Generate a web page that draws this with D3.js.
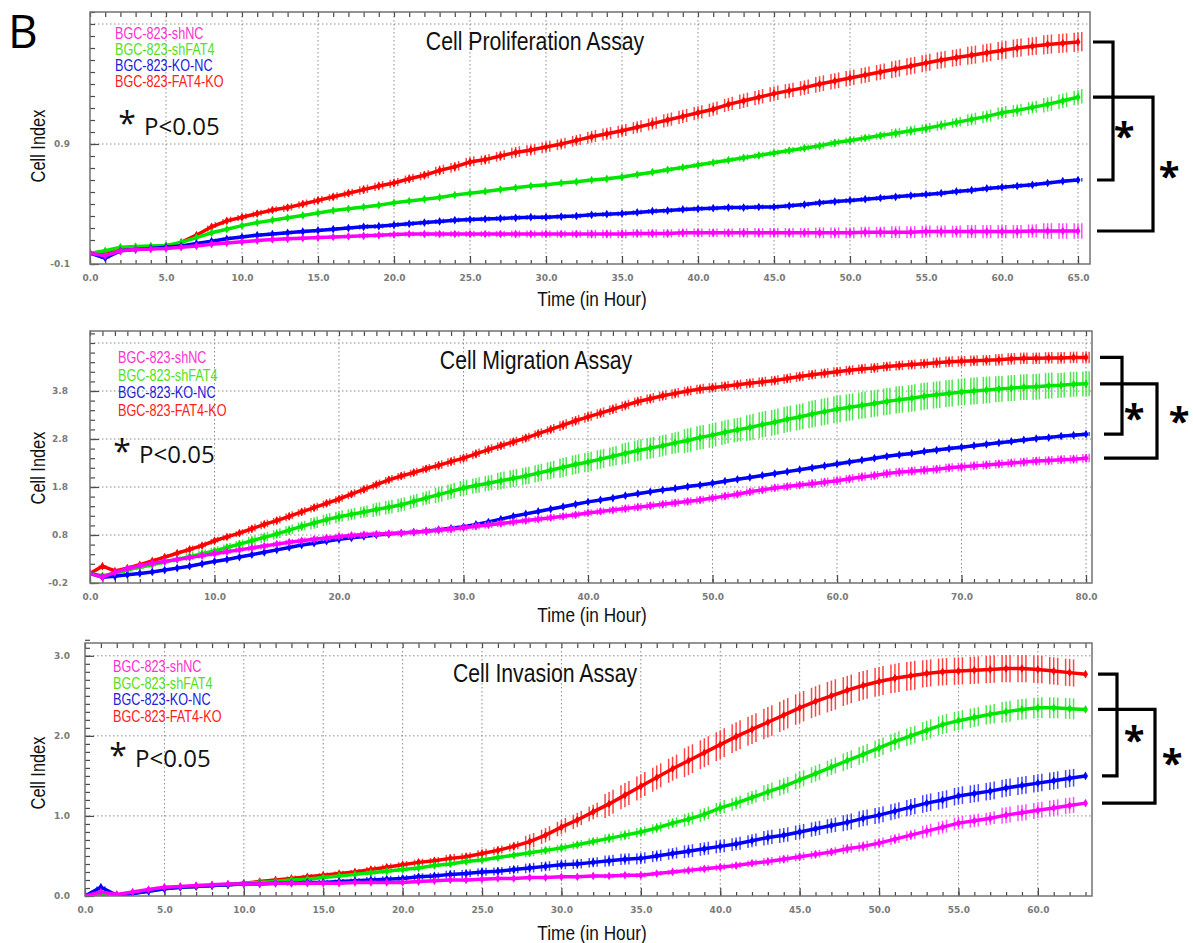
<!DOCTYPE html>
<html>
<head>
<meta charset="utf-8">
<script src="https://cdn.jsdelivr.net/npm/d3@7"></script>
<style>
body { margin: 0; background: #fff; }
text { font-family: "Liberation Sans", Arial, sans-serif; }
</style>
</head>
<body>
<svg id="chart" width="1193" height="943"></svg>
<script>
// legend order
var seriesNames = ["BGC-823-shNC", "BGC-823-shFAT4", "BGC-823-KO-NC", "BGC-823-FAT4-KO"];
var lineColors = ["#ff00ff", "#00e600", "#0000ff", "#ff0000"];
var barColors = ["#ff4dff", "#4de84d", "#4545ff", "#ff4545"];
var legendColors = ["#ff30d0", "#55e020", "#2020d8", "#ff2020"];

// ---- Cell Proliferation Assay, one reading per hour (0..65 h)
var prolifHours = d3.range(0, 66);
var prolifShNC = [-0.01, -0.03, 0.01, 0.02, 0.025, 0.03, 0.04, 0.05, 0.065, 0.075,
    0.085, 0.095, 0.105, 0.11, 0.115, 0.12, 0.125, 0.13, 0.135, 0.14,
    0.145, 0.15, 0.15, 0.15, 0.15, 0.15, 0.15, 0.15, 0.15, 0.15,
    0.15, 0.15, 0.15, 0.15, 0.15, 0.15, 0.155, 0.155, 0.155, 0.16,
    0.16, 0.16, 0.16, 0.16, 0.16, 0.16, 0.16, 0.16, 0.16, 0.16,
    0.16, 0.165, 0.165, 0.165, 0.165, 0.17, 0.17, 0.17, 0.17, 0.17,
    0.17, 0.17, 0.175, 0.175, 0.175, 0.175];
var prolifShFAT4 = [-0.01, 0.01, 0.04, 0.045, 0.05, 0.055, 0.08, 0.12, 0.16, 0.19,
    0.22, 0.245, 0.265, 0.285, 0.305, 0.325, 0.345, 0.36, 0.375, 0.39,
    0.41, 0.425, 0.44, 0.455, 0.475, 0.49, 0.505, 0.52, 0.535, 0.55,
    0.56, 0.575, 0.585, 0.60, 0.61, 0.625, 0.645, 0.665, 0.685, 0.705,
    0.725, 0.745, 0.765, 0.785, 0.805, 0.825, 0.845, 0.865, 0.885, 0.91,
    0.93, 0.95, 0.97, 0.99, 1.01, 1.03, 1.055, 1.08, 1.105, 1.13,
    1.16, 1.18, 1.205, 1.23, 1.26, 1.29];
var prolifKONC = [-0.01, -0.05, 0.01, 0.02, 0.03, 0.04, 0.05, 0.07, 0.09, 0.11,
    0.125, 0.14, 0.15, 0.16, 0.17, 0.18, 0.19, 0.20, 0.21, 0.215,
    0.225, 0.235, 0.245, 0.255, 0.265, 0.27, 0.275, 0.28, 0.285, 0.29,
    0.29, 0.295, 0.30, 0.31, 0.315, 0.32, 0.33, 0.34, 0.345, 0.355,
    0.36, 0.365, 0.37, 0.37, 0.375, 0.375, 0.385, 0.395, 0.41, 0.42,
    0.43, 0.44, 0.45, 0.46, 0.47, 0.48, 0.49, 0.505, 0.515, 0.53,
    0.54, 0.55, 0.56, 0.575, 0.59, 0.60];
var prolifFAT4KO = [-0.01, 0.00, 0.03, 0.035, 0.04, 0.045, 0.08, 0.14, 0.21, 0.26,
    0.29, 0.32, 0.35, 0.37, 0.40, 0.43, 0.46, 0.49, 0.52, 0.55,
    0.575, 0.61, 0.64, 0.68, 0.71, 0.75, 0.77, 0.80, 0.83, 0.85,
    0.875, 0.90, 0.93, 0.96, 0.985, 1.01, 1.04, 1.07, 1.10, 1.13,
    1.16, 1.19, 1.23, 1.26, 1.29, 1.32, 1.345, 1.37, 1.40, 1.425,
    1.45, 1.475, 1.50, 1.525, 1.55, 1.575, 1.60, 1.62, 1.64, 1.66,
    1.68, 1.70, 1.715, 1.73, 1.74, 1.75];
// error bar half-heights, one per 5 h (0, 5, ... 65)
var prolifErrShNC = [0.005, 0.01, 0.01, 0.015, 0.02, 0.025, 0.03, 0.035, 0.035, 0.04, 0.045, 0.05, 0.055, 0.065];
var prolifErrShFAT4 = [0.005, 0.01, 0.01, 0.01, 0.01, 0.01, 0.01, 0.015, 0.02, 0.025, 0.03, 0.04, 0.05, 0.06];
var prolifErrKONC = [0.005, 0.01, 0.015, 0.015, 0.02, 0.02, 0.02, 0.02, 0.02, 0.02, 0.02, 0.02, 0.02, 0.015];
var prolifErrFAT4KO = [0.01, 0.01, 0.025, 0.03, 0.035, 0.04, 0.045, 0.05, 0.055, 0.06, 0.065, 0.07, 0.075, 0.08];

// ---- Cell Migration Assay, one reading per hour (0..80 h)
var migrHours = d3.range(0, 81);
var migrShNC = [0.00, -0.08, 0.02, 0.10, 0.16, 0.21, 0.25, 0.29, 0.33, 0.37,
    0.41, 0.45, 0.49, 0.53, 0.57, 0.61, 0.65, 0.68, 0.71, 0.74,
    0.77, 0.79, 0.81, 0.82, 0.83, 0.84, 0.86, 0.88, 0.90, 0.92,
    0.95, 0.98, 1.01, 1.04, 1.07, 1.10, 1.13, 1.16, 1.19, 1.22,
    1.26, 1.29, 1.32, 1.35, 1.38, 1.41, 1.44, 1.47, 1.50, 1.53,
    1.57, 1.61, 1.65, 1.70, 1.74, 1.78, 1.81, 1.84, 1.87, 1.90,
    1.93, 1.97, 2.01, 2.04, 2.08, 2.11, 2.13, 2.15, 2.17, 2.20,
    2.22, 2.24, 2.26, 2.28, 2.30, 2.32, 2.34, 2.35, 2.37, 2.38,
    2.40];
var migrShFAT4 = [0.00, -0.05, 0.00, 0.07, 0.13, 0.18, 0.24, 0.29, 0.35, 0.41,
    0.47, 0.54, 0.61, 0.68, 0.75, 0.82, 0.90, 0.98, 1.05, 1.12,
    1.18, 1.23, 1.28, 1.33, 1.38, 1.43, 1.50, 1.57, 1.64, 1.71,
    1.78, 1.83, 1.88, 1.93, 1.98, 2.03, 2.09, 2.15, 2.21, 2.27,
    2.32, 2.38, 2.44, 2.50, 2.56, 2.61, 2.66, 2.72, 2.77, 2.83,
    2.88, 2.94, 2.99, 3.04, 3.10, 3.15, 3.21, 3.26, 3.32, 3.37,
    3.42, 3.46, 3.50, 3.54, 3.58, 3.62, 3.65, 3.69, 3.72, 3.75,
    3.78, 3.80, 3.82, 3.84, 3.86, 3.88, 3.89, 3.91, 3.92, 3.94,
    3.95];
var migrKONC = [0.00, -0.08, -0.06, -0.03, 0.00, 0.03, 0.07, 0.11, 0.15, 0.20,
    0.25, 0.29, 0.34, 0.39, 0.44, 0.49, 0.54, 0.59, 0.63, 0.67,
    0.71, 0.74, 0.77, 0.80, 0.82, 0.84, 0.86, 0.88, 0.91, 0.94,
    0.97, 1.02, 1.07, 1.13, 1.19, 1.24, 1.29, 1.34, 1.39, 1.44,
    1.49, 1.53, 1.57, 1.62, 1.66, 1.70, 1.74, 1.77, 1.81, 1.84,
    1.88, 1.92, 1.96, 2.00, 2.04, 2.08, 2.12, 2.16, 2.20, 2.24,
    2.28, 2.32, 2.36, 2.40, 2.44, 2.47, 2.50, 2.54, 2.57, 2.60,
    2.63, 2.66, 2.69, 2.72, 2.75, 2.78, 2.81, 2.83, 2.86, 2.88,
    2.90];
var migrFAT4KO = [0.00, 0.15, 0.05, 0.11, 0.18, 0.26, 0.34, 0.42, 0.50, 0.58,
    0.68, 0.76, 0.84, 0.93, 1.02, 1.10, 1.19, 1.28, 1.37, 1.46,
    1.55, 1.65, 1.75, 1.85, 1.95, 2.03, 2.10, 2.18, 2.25, 2.33,
    2.40, 2.49, 2.58, 2.66, 2.74, 2.82, 2.91, 3.00, 3.09, 3.18,
    3.26, 3.34, 3.42, 3.50, 3.58, 3.64, 3.70, 3.75, 3.80, 3.84,
    3.87, 3.90, 3.93, 3.96, 3.99, 4.02, 4.06, 4.10, 4.14, 4.17,
    4.20, 4.23, 4.26, 4.28, 4.31, 4.33, 4.35, 4.37, 4.39, 4.41,
    4.42, 4.43, 4.44, 4.45, 4.47, 4.48, 4.48, 4.49, 4.49, 4.50,
    4.50];
var migrErrShNC = [0.01, 0.03, 0.05, 0.06, 0.06, 0.06, 0.07, 0.07, 0.07, 0.08, 0.08, 0.08, 0.09, 0.09, 0.09, 0.09, 0.09];
var migrErrShFAT4 = [0.02, 0.05, 0.08, 0.10, 0.12, 0.14, 0.16, 0.18, 0.20, 0.22, 0.25, 0.27, 0.28, 0.28, 0.28, 0.27, 0.26];
var migrErrKONC = [0.01, 0.02, 0.02, 0.02, 0.02, 0.03, 0.03, 0.03, 0.03, 0.03, 0.03, 0.03, 0.04, 0.04, 0.04, 0.04, 0.04];
var migrErrFAT4KO = [0.02, 0.04, 0.06, 0.08, 0.08, 0.08, 0.09, 0.09, 0.10, 0.10, 0.10, 0.10, 0.10, 0.10, 0.11, 0.12, 0.12];

// ---- Cell Invasion Assay, one reading per hour (0..63 h)
var invHours = d3.range(0, 64);
var invShNC = [0.00, 0.05, 0.02, 0.05, 0.08, 0.11, 0.12, 0.13, 0.14, 0.15,
    0.15, 0.15, 0.16, 0.16, 0.16, 0.16, 0.16, 0.17, 0.17, 0.17,
    0.17, 0.18, 0.19, 0.20, 0.20, 0.21, 0.22, 0.22, 0.23, 0.23,
    0.24, 0.24, 0.25, 0.25, 0.26, 0.26, 0.28, 0.30, 0.32, 0.34,
    0.36, 0.38, 0.41, 0.43, 0.46, 0.49, 0.52, 0.55, 0.59, 0.62,
    0.66, 0.71, 0.76, 0.81, 0.86, 0.91, 0.94, 0.97, 1.01, 1.04,
    1.07, 1.10, 1.13, 1.16];
var invShFAT4 = [0.00, 0.02, 0.01, 0.03, 0.06, 0.09, 0.11, 0.12, 0.13, 0.14,
    0.16, 0.17, 0.18, 0.20, 0.21, 0.23, 0.25, 0.27, 0.29, 0.31,
    0.33, 0.35, 0.38, 0.40, 0.43, 0.45, 0.48, 0.51, 0.54, 0.57,
    0.60, 0.64, 0.68, 0.72, 0.76, 0.80, 0.85, 0.91, 0.96, 1.02,
    1.10, 1.16, 1.23, 1.30, 1.37, 1.45, 1.53, 1.61, 1.69, 1.77,
    1.85, 1.93, 2.00, 2.07, 2.14, 2.19, 2.23, 2.27, 2.30, 2.33,
    2.35, 2.35, 2.34, 2.33];
var invKONC = [0.00, 0.11, 0.01, 0.03, 0.06, 0.09, 0.11, 0.12, 0.13, 0.14,
    0.15, 0.15, 0.16, 0.16, 0.17, 0.17, 0.18, 0.19, 0.20, 0.21,
    0.22, 0.24, 0.25, 0.27, 0.28, 0.30, 0.31, 0.33, 0.35, 0.37,
    0.39, 0.40, 0.42, 0.44, 0.46, 0.47, 0.50, 0.53, 0.56, 0.59,
    0.62, 0.65, 0.69, 0.73, 0.76, 0.80, 0.84, 0.88, 0.92, 0.97,
    1.01, 1.06, 1.11, 1.16, 1.20, 1.25, 1.28, 1.31, 1.35, 1.38,
    1.41, 1.44, 1.47, 1.50];
var invFAT4KO = [0.00, 0.02, 0.01, 0.04, 0.07, 0.10, 0.11, 0.12, 0.13, 0.14,
    0.16, 0.18, 0.20, 0.22, 0.24, 0.26, 0.28, 0.30, 0.33, 0.36,
    0.39, 0.42, 0.44, 0.47, 0.49, 0.53, 0.57, 0.62, 0.68, 0.76,
    0.86, 0.95, 1.05, 1.15, 1.26, 1.37, 1.48, 1.59, 1.69, 1.79,
    1.89, 1.99, 2.08, 2.17, 2.26, 2.35, 2.43, 2.50, 2.57, 2.63,
    2.68, 2.72, 2.75, 2.78, 2.80, 2.81, 2.82, 2.83, 2.84, 2.84,
    2.83, 2.81, 2.79, 2.77];
var invErrShNC = [0.01, 0.01, 0.01, 0.02, 0.02, 0.02, 0.02, 0.03, 0.04, 0.05, 0.06, 0.08, 0.10];
var invErrShFAT4 = [0.01, 0.01, 0.02, 0.02, 0.03, 0.03, 0.05, 0.06, 0.08, 0.10, 0.11, 0.12, 0.13];
var invErrKONC = [0.01, 0.02, 0.02, 0.03, 0.04, 0.05, 0.06, 0.07, 0.08, 0.09, 0.10, 0.11, 0.11];
var invErrFAT4KO = [0.01, 0.01, 0.02, 0.03, 0.04, 0.05, 0.09, 0.15, 0.18, 0.19, 0.18, 0.17, 0.17];

// axis tick labels
var prolifXTicks = [0, 5, 10, 15, 20, 25, 30, 35, 40, 45, 50, 55, 60, 65];
var prolifYTicks = [-0.1, 0.9];
var prolifYGrid = [0.9, 1.9];
var migrXTicks = [0, 10, 20, 30, 40, 50, 60, 70, 80];
var migrYTicks = [-0.2, 0.8, 1.8, 2.8, 3.8];
var migrYGrid = [0.8, 1.8, 2.8, 3.8, 4.8];
var invXTicks = [0, 5, 10, 15, 20, 25, 30, 35, 40, 45, 50, 55, 60];
var invYTicks = [0.0, 1.0, 2.0, 3.0];
var invYGrid = [1.0, 2.0, 3.0];

var svg = d3.select("#chart");

function styleAxis(sel) {
    sel.select(".domain").remove();
    sel.selectAll(".tick line").attr("stroke", "#4a4a4a").attr("stroke-width", 1.2);
    sel.selectAll(".tick text")
        .attr("fill", "#7a7a7a")
        .style("font-family", "DejaVu Sans, sans-serif")
        .style("font-weight", "bold")
        .style("font-size", "9px");
}

function drawPanel(p) {
    var x = d3.scaleLinear().domain(p.xDomain).range([p.left, p.right]);
    var y = d3.scaleLinear().domain(p.yDomain).range([p.bottom, p.top]);
    var g = svg.append("g");
    var fmt = function(d) { return d.toFixed(1); };

    g.append("clipPath").attr("id", p.id + "clip")
        .append("rect")
        .attr("x", p.left).attr("y", p.top)
        .attr("width", p.right - p.left).attr("height", p.bottom - p.top);

    // dotted grid
    g.selectAll(".vgrid").data(p.xTicks.filter(function(d) { return d > 0; })).enter().append("line")
        .attr("x1", function(d) { return x(d); })
        .attr("x2", function(d) { return x(d); })
        .attr("y1", p.top).attr("y2", p.bottom)
        .attr("stroke", "#8a8a8a").attr("stroke-width", 1)
        .attr("stroke-dasharray", "1.5,2.5");
    g.selectAll(".hgrid").data(p.yGrid).enter().append("line")
        .attr("x1", p.left).attr("x2", p.right)
        .attr("y1", function(d) { return y(d); })
        .attr("y2", function(d) { return y(d); })
        .attr("stroke", "#8a8a8a").attr("stroke-width", 1)
        .attr("stroke-dasharray", "1.5,2.5");

    // minor ticks every hour / every y step
    var xMinor = d3.range(0, Math.floor(p.xDomain[1]) + 1);
    var yMinor = d3.range(0, Math.round((p.yDomain[1] - p.yDomain[0]) / p.yStep) + 1)
        .map(function(i) { return p.yDomain[0] + i * p.yStep; });

    g.append("g").attr("transform", "translate(0," + p.bottom + ")")
        .call(d3.axisBottom(x).tickValues(xMinor).tickSize(-4).tickFormat(""))
        .call(styleAxis);
    g.append("g").attr("transform", "translate(0," + p.top + ")")
        .call(d3.axisTop(x).tickValues(xMinor).tickSize(-5).tickFormat(""))
        .call(styleAxis);
    g.append("g").attr("transform", "translate(" + p.left + ",0)")
        .call(d3.axisLeft(y).tickValues(yMinor).tickSize(-5).tickFormat(""))
        .call(styleAxis);

    // labelled ticks
    g.append("g").attr("transform", "translate(0," + p.bottom + ")")
        .call(d3.axisBottom(x).tickValues(p.xTicks).tickSize(-8).tickPadding(11).tickFormat(fmt))
        .call(styleAxis);
    g.append("g").attr("transform", "translate(" + p.left + ",0)")
        .call(d3.axisLeft(y).tickValues(p.yTicks).tickSize(-9).tickPadding(p.yPad).tickFormat(fmt))
        .call(styleAxis);

    // series
    var plot = g.append("g").attr("clip-path", "url(#" + p.id + "clip)");
    var hourPx = x(1) - x(0);
    var offsets = [-1, 0, 1].map(function(k) { return k * hourPx / 4; });
    var order = [3, 1, 2, 0];

    order.forEach(function(si) {
        var vals = p.series[si];
        var errs = p.errors[si];
        var pts = p.hours.map(function(t, j) {
            return { t: t, v: vals[j], e: errs[Math.round(t / 5)] };
        });

        var bars = [];
        pts.forEach(function(d, j) {
            var prev = pts[Math.max(0, j - 1)];
            var next = pts[Math.min(pts.length - 1, j + 1)];
            var slope = (y(next.v) - y(prev.v)) / (x(next.t) - x(prev.t) || 1);
            var eh = y(0) - y(d.e);
            offsets.forEach(function(dx) {
                var cy = y(d.v) + slope * dx;
                bars.push({ x: x(d.t) + dx, y1: cy - eh, y2: cy + eh });
            });
        });

        plot.append("g").selectAll("line").data(bars).enter().append("line")
            .attr("x1", function(b) { return b.x; })
            .attr("x2", function(b) { return b.x; })
            .attr("y1", function(b) { return b.y1; })
            .attr("y2", function(b) { return b.y2; })
            .attr("stroke", barColors[si])
            .attr("stroke-width", 1.5);

        plot.append("path").datum(pts)
            .attr("fill", "none")
            .attr("stroke", lineColors[si])
            .attr("stroke-width", 3.5)
            .attr("d", d3.line()
                .x(function(d) { return x(d.t); })
                .y(function(d) { return y(d.v); }));

        plot.append("g").selectAll("path").data(pts).enter().append("path")
            .attr("transform", function(d) { return "translate(" + x(d.t) + "," + y(d.v) + ")"; })
            .attr("d", d3.symbol(d3.symbolDiamond).size(22))
            .attr("fill", lineColors[si]);
    });

    // frame
    g.append("rect")
        .attr("x", p.left).attr("y", p.top)
        .attr("width", p.right - p.left).attr("height", p.bottom - p.top)
        .attr("fill", "none").attr("stroke", "#727272").attr("stroke-width", 1.5);

    // title and axis titles
    g.append("text")
        .attr("transform", "translate(" + p.titleX + "," + p.titleY + ") scale(0.85,1)")
        .attr("text-anchor", "middle")
        .style("font-size", "25px")
        .attr("fill", "#111")
        .text(p.title);
    g.append("text")
        .attr("transform", "translate(592," + p.xTitleY + ") scale(0.82,1)")
        .attr("text-anchor", "middle")
        .style("font-size", "21px")
        .attr("fill", "#111")
        .text("Time (in Hour)");
    g.append("text")
        .attr("transform", "translate(45," + p.yTitleY + ") rotate(-90) scale(0.78,1)")
        .attr("text-anchor", "middle")
        .style("font-size", "21px")
        .attr("fill", "#111")
        .text("Cell Index");

    // legend
    var leg = g.append("g")
        .attr("transform", "translate(" + p.legX + "," + p.legY + ") scale(0.79,1)");
    leg.selectAll("text").data(seriesNames).enter().append("text")
        .attr("x", 0)
        .attr("y", function(d, i) { return i * p.legStep; })
        .style("font-size", "16px")
        .attr("fill", function(d, i) { return legendColors[i]; })
        .text(function(d) { return d; });

    // significance note
    g.append("text")
        .attr("x", p.noteX - 17).attr("y", p.noteY)
        .attr("text-anchor", "middle")
        .style("font-family", "Open Sans, sans-serif")
        .style("font-size", "32px")
        .attr("fill", "#111")
        .text("*");
    g.append("text")
        .attr("x", p.noteX).attr("y", p.noteY)
        .style("font-family", "Open Sans, sans-serif")
        .style("font-size", "24px")
        .attr("fill", "#111")
        .text("P<0.05");

    // brackets: FAT4-KO vs KO-NC, shFAT4 vs shNC (ends taken from the last readings)
    var last = p.hours.length - 1;
    var pairs = [[3, 2, p.br1], [1, 0, p.br2]];
    pairs.forEach(function(pr, k) {
        var yTop = y(p.series[pr[0]][last]);
        var yBot = y(p.series[pr[1]][last]);
        var x0 = p.right + p.brStart;
        var xv = p.right + pr[2];
        g.append("path")
            .attr("d", "M" + x0 + "," + yTop + "H" + xv + "V" + yBot + "H" + (x0 + 4))
            .attr("fill", "none")
            .attr("stroke", "#000")
            .attr("stroke-width", 3.2);
        g.append("text")
            .attr("x", p.stars[k][0]).attr("y", p.stars[k][1])
            .attr("text-anchor", "middle")
            .style("font-family", "Open Sans, sans-serif")
            .style("font-weight", "bold")
            .style("font-size", "38px")
            .attr("fill", "#000")
            .text("*");
    });
}

drawPanel({
    id: "prolif", left: 90, right: 1090, top: 12, bottom: 264,
    xDomain: [0, 65.79], yDomain: [-0.1, 2.0], yStep: 0.1, yPad: 20,
    xTicks: prolifXTicks, yTicks: prolifYTicks, yGrid: prolifYGrid,
    hours: prolifHours,
    series: [prolifShNC, prolifShFAT4, prolifKONC, prolifFAT4KO],
    errors: [prolifErrShNC, prolifErrShFAT4, prolifErrKONC, prolifErrFAT4KO],
    title: "Cell Proliferation Assay", titleX: 535, titleY: 50,
    xTitleY: 306, yTitleY: 146,
    legX: 115, legY: 39, legStep: 16,
    noteX: 144, noteY: 135,
    brStart: 3, br1: 23, br2: 63,
    stars: [[1124, 150], [1169, 190]]
});

drawPanel({
    id: "migr", left: 90, right: 1092, top: 331, bottom: 583,
    xDomain: [0, 80.48], yDomain: [-0.2, 5.05], yStep: 0.2, yPad: 22,
    xTicks: migrXTicks, yTicks: migrYTicks, yGrid: migrYGrid,
    hours: migrHours,
    series: [migrShNC, migrShFAT4, migrKONC, migrFAT4KO],
    errors: [migrErrShNC, migrErrShFAT4, migrErrKONC, migrErrFAT4KO],
    title: "Cell Migration Assay", titleX: 536, titleY: 369,
    xTitleY: 622, yTitleY: 468,
    legX: 118, legY: 363, legStep: 17.7,
    noteX: 139, noteY: 463,
    brStart: 8, br1: 30, br2: 65,
    stars: [[1134, 432], [1179, 435]]
});

drawPanel({
    id: "inv", left: 85, right: 1092, top: 643, bottom: 896,
    xDomain: [0, 63.41], yDomain: [0, 3.16], yStep: 0.1, yPad: 15,
    xTicks: invXTicks, yTicks: invYTicks, yGrid: invYGrid,
    hours: invHours,
    series: [invShNC, invShFAT4, invKONC, invFAT4KO],
    errors: [invErrShNC, invErrShFAT4, invErrKONC, invErrFAT4KO],
    title: "Cell Invasion Assay", titleX: 545, titleY: 682,
    xTitleY: 940, yTitleY: 773,
    legX: 113, legY: 672, legStep: 16.7,
    noteX: 135, noteY: 767,
    brStart: 6, br1: 25, br2: 63,
    stars: [[1134, 754], [1172, 777]]
});

// panel letter
svg.append("text")
    .attr("x", 8).attr("y", 48)
    .style("font-family", "Open Sans, sans-serif")
    .style("font-size", "46px")
    .attr("fill", "#000")
    .text("B");
</script>
</body>
</html>
